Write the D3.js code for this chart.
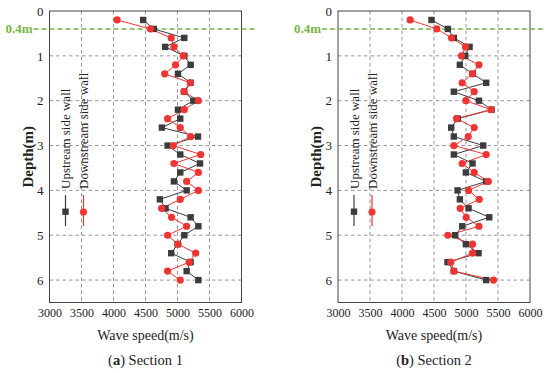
<!DOCTYPE html>
<html>
<head>
<meta charset="utf-8">
<script src="https://cdn.jsdelivr.net/npm/d3@7"></script>
<style>
  body { margin: 0; background: #fff; }
  svg text { font-family: "Liberation Serif", "Times New Roman", Times, "DejaVu Serif", serif; fill: #222; }
</style>
</head>
<body>
<div id="viz"></div>
<script>
// depth of each measuring point (m)
var depths = [0.2, 0.4, 0.6, 0.8, 1.0, 1.2, 1.4, 1.6, 1.8, 2.0,
              2.2, 2.4, 2.6, 2.8, 3.0, 3.2, 3.4, 3.6, 3.8, 4.0,
              4.2, 4.4, 4.6, 4.8, 5.0, 5.2, 5.4, 5.6, 5.8, 6.0];

// section 1 wave speeds (m/s)
var up1 = [4463, 4630, 5106, 4808, 5106, 5205, 5007, 5205, 5106, 5247,
           5007, 5043, 4756, 5320, 4845, 5043, 5352, 5043, 4944, 5143,
           4725, 4813, 5205, 5326, 5106, 5002, 4902, 5205, 5143, 5326];
var down1 = [4056, 4578, 4902, 4944, 5090, 4970, 4800, 5200, 5100, 5326,
             5106, 4845, 5043, 5205, 4934, 5362, 4944, 5326, 5143, 5326,
             5043, 4751, 4907, 5143, 4845, 5010, 5284, 5184, 4845, 5043];

// section 2 wave speeds (m/s)
var up2 = [4461, 4716, 4810, 5056, 4988, 4904, 5108, 5316, 4810, 5202,
           5400, 4873, 4769, 4810, 5269, 4810, 5102, 4998, 5316, 4868,
           4904, 5040, 5363, 4941, 4831, 4998, 5196, 4711, 4810, 5316];
var down2 = [4127, 4544, 4775, 4993, 4930, 5202, 5100, 4940, 5128, 4998,
             5390, 4852, 5128, 5035, 4810, 5316, 4940, 5128, 5348, 5040,
             5207, 4909, 5003, 5202, 4716, 5102, 5102, 4763, 4810, 5431];

var xTicks = [3000, 3500, 4000, 4500, 5000, 5500, 6000];
var yTicks = [0, 1, 2, 3, 4, 5, 6];
var seriesNames = ['Upstream side wall', 'Downstream side wall'];

var black = '#3c3c3c';
var red = '#ef3434';
var green = '#79b443';
var serif = '"Liberation Serif", "Times New Roman", Times, serif';

var svg = d3.select('#viz').append('svg')
  .attr('width', 550)
  .attr('height', 373)
  .attr('font-family', serif);

var plotW = 192, plotH = 291.5, plotTop = 11;

var y = d3.scaleLinear().domain([0, 6.5]).range([0, plotH]);

function drawPanel(left, up, down, letter, title) {
  var g = svg.append('g').attr('transform', 'translate(' + left + ',' + plotTop + ')');
  var x = d3.scaleLinear().domain([3000, 6000]).range([0, plotW]);

  // grid
  g.selectAll('.vgrid').data(xTicks.slice(1, -1)).enter().append('line')
    .attr('x1', function(d) { return x(d); }).attr('x2', function(d) { return x(d); })
    .attr('y1', 0).attr('y2', plotH)
    .attr('stroke', '#7a7a7a').attr('stroke-width', 0.8).attr('stroke-dasharray', '3.5,3');
  g.selectAll('.hgrid').data(yTicks.slice(1)).enter().append('line')
    .attr('x1', 0).attr('x2', plotW)
    .attr('y1', function(d) { return y(d); }).attr('y2', function(d) { return y(d); })
    .attr('stroke', '#7a7a7a').attr('stroke-width', 0.8).attr('stroke-dasharray', '3.5,3');

  // axes
  var xa = g.append('g').attr('transform', 'translate(0,' + plotH + ')')
    .call(d3.axisBottom(x).tickValues(xTicks).tickFormat(d3.format('d')).tickSize(0).tickPadding(6));
  var ya = g.append('g')
    .call(d3.axisLeft(y).tickValues(yTicks).tickFormat(d3.format('d')).tickSize(0).tickPadding(6));
  [xa, ya].forEach(function(a) {
    a.attr('font-family', serif);
    a.select('.domain').remove();
  });
  xa.selectAll('text').style('font-size', '12px');
  ya.selectAll('text').style('font-size', '13px');

  g.append('rect').attr('width', plotW).attr('height', plotH)
    .attr('fill', 'none').attr('stroke', '#444').attr('stroke-width', 1);

  // 0.4 m line
  g.append('line').attr('x1', -16).attr('x2', plotW + 14)
    .attr('y1', y(0.4)).attr('y2', y(0.4))
    .attr('stroke', green).attr('stroke-width', 1.6).attr('stroke-dasharray', '5,3');
  g.append('text').attr('x', -17).attr('y', y(0.4) + 4)
    .attr('text-anchor', 'end').style('font-size', '13px').style('font-weight', 'bold')
    .style('fill', green).text('0.4m');

  // series
  var line = function(vals) {
    return d3.line().x(function(d, i) { return x(vals[i]); }).y(function(d) { return y(d); })(depths);
  };
  g.append('path').attr('d', line(up)).attr('fill', 'none').attr('stroke', black).attr('stroke-width', 1);
  g.append('path').attr('d', line(down)).attr('fill', 'none').attr('stroke', red).attr('stroke-width', 1);

  g.selectAll('.sq').data(depths).enter().append('rect')
    .attr('x', function(d, i) { return x(up[i]) - 3.2; })
    .attr('y', function(d) { return y(d) - 3.2; })
    .attr('width', 6.4).attr('height', 6.4).attr('fill', black);
  g.selectAll('.ci').data(depths).enter().append('circle')
    .attr('cx', function(d, i) { return x(down[i]); })
    .attr('cy', function(d) { return y(d); })
    .attr('r', 3.6).attr('fill', red);

  // legend (rotated)
  var lg = [{c: black, sq: true, lx: 16}, {c: red, sq: false, lx: 34}];
  lg.forEach(function(l, i) {
    g.append('line').attr('x1', l.lx).attr('x2', l.lx).attr('y1', 184).attr('y2', 215)
      .attr('stroke', l.c).attr('stroke-width', 1.2);
    if (l.sq) {
      g.append('rect').attr('x', l.lx - 3.2).attr('y', 197.5).attr('width', 6.4).attr('height', 6.4).attr('fill', l.c);
    } else {
      g.append('circle').attr('cx', l.lx).attr('cy', 201).attr('r', 3.6).attr('fill', l.c);
    }
    g.append('text').attr('transform', 'translate(' + (l.lx + 4.5) + ',178) rotate(-90)')
      .style('font-size', '13px').text(seriesNames[i]);
  });

  // titles
  g.append('text').attr('transform', 'translate(-17,' + (plotH / 2) + ') rotate(-90)')
    .attr('text-anchor', 'middle').style('font-size', '15px').style('font-weight', 'bold')
    .text('Depth(m)');
  g.append('text').attr('x', plotW / 2).attr('y', plotH + 37)
    .attr('text-anchor', 'middle').style('font-size', '14px').text('Wave speed(m/s)');
  var cap = g.append('text').attr('x', plotW / 2).attr('y', plotH + 62)
    .attr('text-anchor', 'middle').style('font-size', '14.5px');
  cap.append('tspan').text('(');
  cap.append('tspan').style('font-weight', 'bold').text(letter);
  cap.append('tspan').text(') ' + title);
}

drawPanel(49.5, up1, down1, 'a', 'Section 1');
drawPanel(338, up2, down2, 'b', 'Section 2');
</script>
</body>
</html>
